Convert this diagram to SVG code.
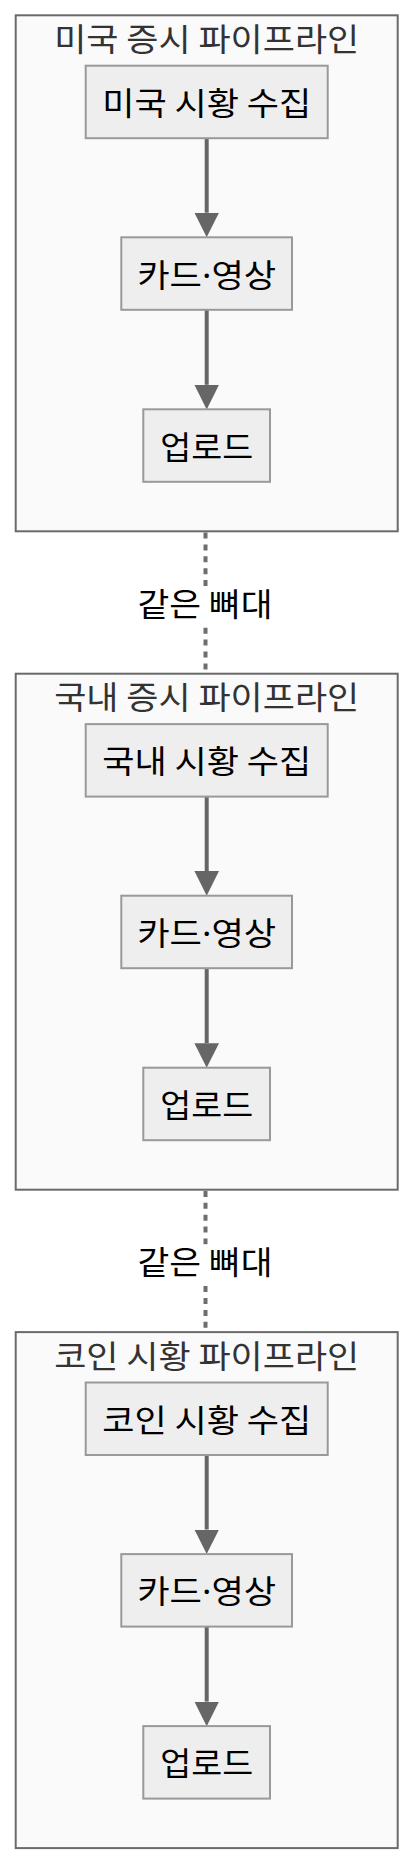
<svg xmlns="http://www.w3.org/2000/svg" width="414" height="1864" viewBox="0 0 414 1864">
  <style>
    text { font-family: "Noto Sans CJK KR", "Noto Sans", sans-serif; font-size: 32px; text-anchor: middle; }
    .dot { font-family: "Noto Sans", "DejaVu Sans", sans-serif; }
    .cluster rect { fill: #fafafa; stroke: #6a6a6a; stroke-width: 2; }
    .cluster text { fill: #333333; }
    .node rect { fill: #eeeeee; stroke: #999999; stroke-width: 2; }
    .node text { fill: #000000; }
    .flow { stroke: #666666; stroke-width: 4; fill: none; marker-end: url(#arrow); }
    .link { stroke: #6e6e6e; stroke-width: 4; fill: none; stroke-dasharray: 6 5.9; }
    .label-bg { fill: #ffffff; }
    .label { fill: #000000; }
  </style>
  <defs>
    <marker id="arrow" markerUnits="userSpaceOnUse" markerWidth="26" markerHeight="26" refX="0" refY="12.3" orient="auto">
      <path d="M0,0 L24.6,12.3 L0,24.6 Z" fill="#666666"/>
    </marker>
  </defs>
  <rect width="414" height="1864" fill="#ffffff"/>

  <g id="cluster-us" class="cluster">
    <rect x="15.7" y="15.3" width="382" height="516"/>
    <text x="206.7" y="50.8" textLength="305" lengthAdjust="spacingAndGlyphs">미국 증시 파이프라인</text>
  </g>
  <g id="cluster-kr" class="cluster">
    <rect x="15.7" y="673.7" width="382" height="516"/>
    <text x="206.7" y="709.2" textLength="305" lengthAdjust="spacingAndGlyphs">국내 증시 파이프라인</text>
  </g>
  <g id="cluster-coin" class="cluster">
    <rect x="15.7" y="1332.1" width="382" height="516"/>
    <text x="206.7" y="1367.6" textLength="305" lengthAdjust="spacingAndGlyphs">코인 시황 파이프라인</text>
  </g>

  <g id="connectors">
    <line class="flow" x1="206.7" y1="138.2" x2="206.7" y2="212.7"/>
    <line class="flow" x1="206.7" y1="309.8" x2="206.7" y2="384.8"/>
    <line class="flow" x1="206.7" y1="796.6" x2="206.7" y2="871.1"/>
    <line class="flow" x1="206.7" y1="968.2" x2="206.7" y2="1043.2"/>
    <line class="flow" x1="206.7" y1="1455" x2="206.7" y2="1529.5"/>
    <line class="flow" x1="206.7" y1="1626.6" x2="206.7" y2="1701.6"/>

    <line class="link" x1="205.5" y1="532.5" x2="205.5" y2="672.7"/>
    <rect class="label-bg" x="136" y="586" width="140" height="41"/>
    <text class="label" x="205" y="615.5" textLength="135" lengthAdjust="spacingAndGlyphs">같은 뼈대</text>

    <line class="link" x1="205.5" y1="1190.9" x2="205.5" y2="1331.1"/>
    <rect class="label-bg" x="136" y="1244.4" width="140" height="41"/>
    <text class="label" x="205" y="1273.9" textLength="135" lengthAdjust="spacingAndGlyphs">같은 뼈대</text>
  </g>

  <g id="us-collect" class="node">
    <rect x="85.7" y="65.7" width="242" height="72.5"/>
    <text x="206.7" y="114.95" textLength="209" lengthAdjust="spacingAndGlyphs">미국 시황 수집</text>
  </g>
  <g id="us-card" class="node">
    <rect x="121.3" y="237.3" width="170.7" height="72.5"/>
    <text x="206.7" y="286.55" textLength="139" lengthAdjust="spacingAndGlyphs">카드<tspan class="dot">·</tspan>영상</text>
  </g>
  <g id="us-upload" class="node">
    <rect x="143.3" y="409.3" width="126.7" height="72.5"/>
    <text x="206.7" y="458.55" textLength="93" lengthAdjust="spacingAndGlyphs">업로드</text>
  </g>

  <g id="kr-collect" class="node">
    <rect x="85.7" y="724.1" width="242" height="72.5"/>
    <text x="206.7" y="773.35" textLength="209" lengthAdjust="spacingAndGlyphs">국내 시황 수집</text>
  </g>
  <g id="kr-card" class="node">
    <rect x="121.3" y="895.7" width="170.7" height="72.5"/>
    <text x="206.7" y="944.95" textLength="139" lengthAdjust="spacingAndGlyphs">카드<tspan class="dot">·</tspan>영상</text>
  </g>
  <g id="kr-upload" class="node">
    <rect x="143.3" y="1067.7" width="126.7" height="72.5"/>
    <text x="206.7" y="1116.95" textLength="93" lengthAdjust="spacingAndGlyphs">업로드</text>
  </g>

  <g id="coin-collect" class="node">
    <rect x="85.7" y="1382.5" width="242" height="72.5"/>
    <text x="206.7" y="1431.75" textLength="209" lengthAdjust="spacingAndGlyphs">코인 시황 수집</text>
  </g>
  <g id="coin-card" class="node">
    <rect x="121.3" y="1554.1" width="170.7" height="72.5"/>
    <text x="206.7" y="1603.35" textLength="139" lengthAdjust="spacingAndGlyphs">카드<tspan class="dot">·</tspan>영상</text>
  </g>
  <g id="coin-upload" class="node">
    <rect x="143.3" y="1726.1" width="126.7" height="72.5"/>
    <text x="206.7" y="1775.35" textLength="93" lengthAdjust="spacingAndGlyphs">업로드</text>
  </g>
</svg>
